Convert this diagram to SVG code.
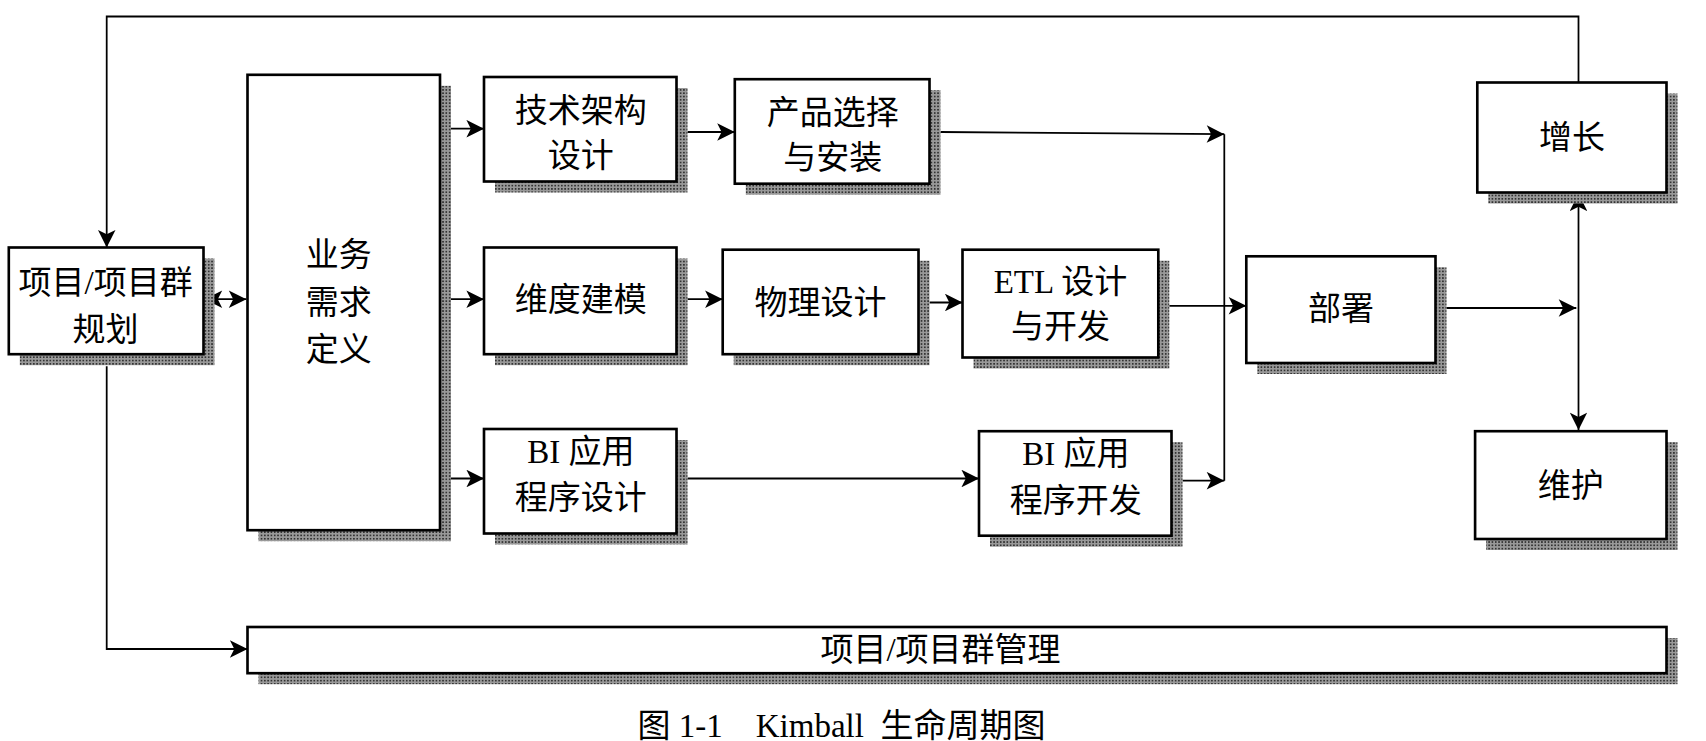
<svg xmlns="http://www.w3.org/2000/svg" width="1706" height="741" viewBox="0 0 1706 741">
<defs>
<pattern id="hatch" width="3" height="3" patternUnits="userSpaceOnUse"><rect width="3" height="3" fill="#999"/><rect width="1.5" height="1.5" fill="#333"/></pattern>
<marker id="ah2" viewBox="0 0 10 10" refX="10" refY="5" markerWidth="20" markerHeight="16" markerUnits="userSpaceOnUse" orient="auto-start-reverse"><path d="M0,0 L10,5 L0,10 L2.5,5 z" fill="#000"/></marker>
</defs>
<style>
.box{fill:#fff;stroke:#000;stroke-width:2.4}
.sh{fill:url(#hatch)}
.t{font-family:"Liberation Serif","Noto Sans CJK SC",serif;font-size:30px;text-anchor:middle;fill:#000}
.c{fill:none;stroke:#000;stroke-width:1.6}
</style>
<rect width="1706" height="741" fill="#fff"/>
<g transform="scale(1.1)">
<g id="connectors">
<polyline class="c" points="1435,75 1435,15 97,15 97,225" marker-end="url(#ah2)"/>
<line class="c" x1="186" y1="272" x2="224" y2="272" marker-start="url(#ah2)" marker-end="url(#ah2)"/>
<line class="c" x1="410" y1="117" x2="440" y2="117" marker-end="url(#ah2)"/>
<line class="c" x1="410" y1="272" x2="440" y2="272" marker-end="url(#ah2)"/>
<line class="c" x1="410" y1="435" x2="440" y2="435" marker-end="url(#ah2)"/>
<line class="c" x1="625" y1="120" x2="668" y2="120" marker-end="url(#ah2)"/>
<line class="c" x1="625" y1="272" x2="657" y2="272" marker-end="url(#ah2)"/>
<line class="c" x1="845" y1="275" x2="875" y2="275" marker-end="url(#ah2)"/>
<line class="c" x1="625" y1="435" x2="890" y2="435" marker-end="url(#ah2)"/>
<line class="c" x1="855" y1="120" x2="1113" y2="122" marker-end="url(#ah2)"/>
<line class="c" x1="1075" y1="437" x2="1113" y2="437" marker-end="url(#ah2)"/>
<line class="c" x1="1113" y1="122" x2="1113" y2="437"/>
<line class="c" x1="1063" y1="278" x2="1133" y2="278" marker-end="url(#ah2)"/>
<line class="c" x1="1315" y1="280" x2="1433" y2="280" marker-end="url(#ah2)"/>
<line class="c" x1="1435" y1="176" x2="1435" y2="391" marker-start="url(#ah2)" marker-end="url(#ah2)"/>
<polyline class="c" points="97,333 97,590 225,590" marker-end="url(#ah2)"/>
</g>
<g id="n-plan"><rect class="sh" x="18" y="235" width="177" height="97"/><rect class="box" x="8" y="225" width="177" height="97"/><text class="t" x="96" y="267">项目/项目群</text><text class="t" x="96" y="310">规划</text></g>
<g id="n-req"><rect class="sh" x="235" y="78" width="175" height="414"/><rect class="box" x="225" y="68" width="175" height="414"/><text class="t" x="308" y="242">业务</text><text class="t" x="308" y="285">需求</text><text class="t" x="308" y="328">定义</text></g>
<g id="n-tech"><rect class="sh" x="450" y="80" width="175" height="95"/><rect class="box" x="440" y="70" width="175" height="95"/><text class="t" x="528" y="111">技术架构</text><text class="t" x="528" y="152">设计</text></g>
<g id="n-prod"><rect class="sh" x="678" y="82" width="177" height="95"/><rect class="box" x="668" y="72" width="177" height="95"/><text class="t" x="757" y="113">产品选择</text><text class="t" x="757" y="154">与安装</text></g>
<g id="n-dim"><rect class="sh" x="450" y="235" width="175" height="97"/><rect class="box" x="440" y="225" width="175" height="97"/><text class="t" x="528" y="283">维度建模</text></g>
<g id="n-phys"><rect class="sh" x="667" y="237" width="178" height="95"/><rect class="box" x="657" y="227" width="178" height="95"/><text class="t" x="746" y="285">物理设计</text></g>
<g id="n-etl"><rect class="sh" x="885" y="237" width="178" height="98"/><rect class="box" x="875" y="227" width="178" height="98"/><text class="t" x="964" y="266">ETL 设计</text><text class="t" x="964" y="307">与开发</text></g>
<g id="n-deploy"><rect class="sh" x="1143" y="243" width="172" height="97"/><rect class="box" x="1133" y="233" width="172" height="97"/><text class="t" x="1219" y="291">部署</text></g>
<g id="n-grow"><rect class="sh" x="1353" y="85" width="172" height="100"/><rect class="box" x="1343" y="75" width="172" height="100"/><text class="t" x="1429" y="135">增长</text></g>
<g id="n-maint"><rect class="sh" x="1351" y="402" width="174" height="98"/><rect class="box" x="1341" y="392" width="174" height="98"/><text class="t" x="1428" y="452">维护</text></g>
<g id="n-bides"><rect class="sh" x="450" y="400" width="175" height="95"/><rect class="box" x="440" y="390" width="175" height="95"/><text class="t" x="528" y="421">BI 应用</text><text class="t" x="528" y="463">程序设计</text></g>
<g id="n-bidev"><rect class="sh" x="900" y="402" width="175" height="95"/><rect class="box" x="890" y="392" width="175" height="95"/><text class="t" x="978" y="423">BI 应用</text><text class="t" x="978" y="465">程序开发</text></g>
<g id="n-mgmt"><rect class="sh" x="235" y="580" width="1290" height="42"/><rect class="box" x="225" y="570" width="1290" height="42"/><text class="t" x="855" y="601">项目/项目群管理</text></g>
<text class="t" x="765" y="670" xml:space="preserve">图 1-1    Kimball  生命周期图</text>
</g>
</svg>
